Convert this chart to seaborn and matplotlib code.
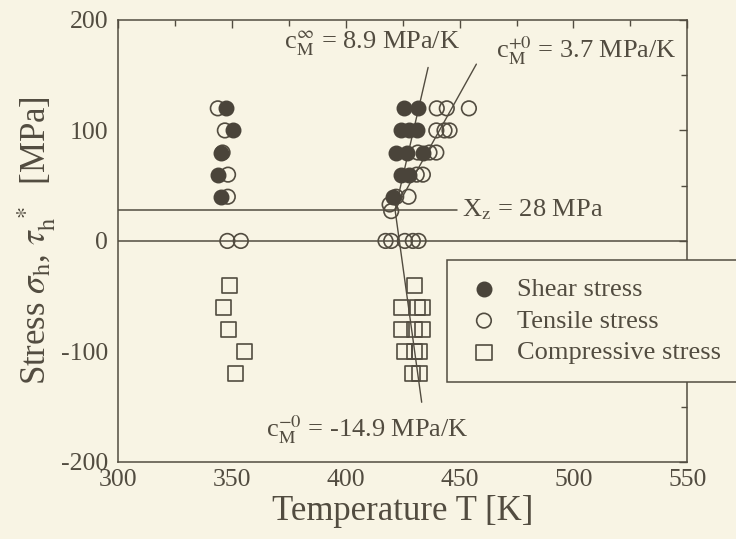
import matplotlib
matplotlib.use("Agg")
import matplotlib.pyplot as plt
import seaborn as sns
import pandas as pd
from matplotlib.ticker import MultipleLocator

# Measured transformation points: temperature [K] and applied stress [MPa]
shear_T = [347.6, 425.4, 431.7,
           350.5, 424.4, 428.0, 431.2,
           345.5, 422.2, 426.9, 433.9,
           344.0, 424.4, 428.0,
           345.5, 420.7]
shear_S = [120, 120, 120,
           100, 100, 100, 100,
           80, 80, 80, 80,
           60, 60, 60,
           40, 40]

tensile_T = [343.9, 440.0, 444.4, 454.1,
             347.0, 439.8, 443.4, 445.6,
             346.0, 431.7, 436.8, 439.8,
             348.4, 431.2, 433.9,
             348.3, 422.2, 427.6,
             419.3, 420.0,
             348.1, 354.0, 417.5, 420.0, 426.0, 429.5, 432.0]
tensile_S = [120, 120, 120, 120,
             100, 100, 100, 100,
             80, 80, 80, 80,
             60, 60, 60,
             40, 40, 40,
             33, 27,
             0, 0, 0, 0, 0, 0, 0]

compress_T = [349.0, 430.3,
              346.5, 424.4, 431.7, 433.9,
              348.7, 424.4, 430.3, 433.9,
              355.7, 425.9, 430.3, 432.5,
              351.8, 429.5, 432.5]
compress_S = [-40, -40,
              -60, -60, -60, -60,
              -80, -80, -80, -80,
              -100, -100, -100, -100,
              -120, -120, -120]

# Clausius-Clapeyron slopes [MPa/K] meeting at the critical stress X_z
Xz = 28.0
T_pivot = 421.7
slope_inf = 8.9
slope_plus = 3.7
slope_minus = -14.9
S_top_inf = 157.0
S_top_plus = 160.0
S_bot_minus = -146.0

labels = ["Shear stress", "Tensile stress", "Compressive stress"]

bg = "#f8f4e4"
ink = "#524c40"
fill = "#4a443a"

sns.set_theme(style="white")
plt.rcParams["font.family"] = ["Liberation Serif", "DejaVu Serif"]
plt.rcParams["mathtext.fontset"] = "stix"
plt.rcParams["axes.unicode_minus"] = False
plt.rcParams["text.color"] = ink
plt.rcParams["axes.labelcolor"] = ink
plt.rcParams["xtick.color"] = ink
plt.rcParams["ytick.color"] = ink

fig = plt.figure(figsize=(7.36, 5.39), dpi=100, facecolor=bg)
ax = fig.add_axes([0.160, 0.143, 0.774, 0.820])
ax.set_facecolor(bg)

# Reference lines
ax.axhline(0, color=ink, lw=1.1, zorder=1)
ax.plot([300, 449], [Xz, Xz], color=ink, lw=1.1, zorder=1)

def line_from_pivot(slope, s_end):
    t_end = T_pivot + (s_end - Xz) / slope
    ax.plot([T_pivot, t_end], [Xz, s_end], color=ink, lw=1.0, zorder=1)

line_from_pivot(slope_inf, S_top_inf)
line_from_pivot(slope_plus, S_top_plus)
line_from_pivot(slope_minus, S_bot_minus)

df_t = pd.DataFrame({"T": tensile_T, "S": tensile_S})
df_c = pd.DataFrame({"T": compress_T, "S": compress_S})
df_s = pd.DataFrame({"T": shear_T, "S": shear_S})

sns.scatterplot(data=df_t, x="T", y="S", marker="o", s=110, facecolor="none",
                edgecolor=ink, linewidth=1.2, ax=ax, zorder=3, label=labels[1])
sns.scatterplot(data=df_c, x="T", y="S", marker="s", s=120, facecolor="none",
                edgecolor=ink, linewidth=1.2, ax=ax, zorder=3, label=labels[2])
sns.scatterplot(data=df_s, x="T", y="S", marker="o", s=110, color=fill,
                edgecolor=fill, linewidth=1.0, ax=ax, zorder=4, label=labels[0])

ax.set_xlim(300, 550)
ax.set_ylim(-200, 200)
ax.xaxis.set_major_locator(MultipleLocator(50))
ax.xaxis.set_minor_locator(MultipleLocator(25))
ax.yaxis.set_major_locator(MultipleLocator(100))
ax.yaxis.set_minor_locator(MultipleLocator(50))
ax.tick_params(which="both", direction="in", top=True, right=True,
               labelsize=18.5)
ax.tick_params(axis="x", pad=5)
ax.tick_params(axis="y", pad=7)
ax.tick_params(which="major", length=6, width=1.0)
ax.tick_params(which="minor", length=4, width=1.0)
for sp in ax.spines.values():
    sp.set_color(ink)
    sp.set_linewidth(1.1)

ax.set_xlabel("Temperature T [K]", fontsize=25, labelpad=3)
ax.set_ylabel(r"Stress $\sigma_{\rm h}$, $\tau_{\rm h}^{\ *}$  [MPa]",
              fontsize=25, labelpad=2)

# Slope annotations
ax.text(411.4, 179, r"c$_{\rm M}^{\infty}$ = 8.9 MPa/K", fontsize=19,
        ha="center", va="center")
ax.text(466, 172, r"c$_{\rm M}^{+0}$ = 3.7 MPa/K", fontsize=19,
        ha="left", va="center")
ax.text(451, 28, r"X$_{\rm z}$ = 28 MPa", fontsize=19, ha="left", va="center")
ax.text(409.6, -171, r"c$_{\rm M}^{-0}$ = -14.9 MPa/K", fontsize=19,
        ha="center", va="center")

# Legend in the order shear, tensile, compressive
handles, labs = ax.get_legend_handles_labels()
order = [labs.index(l) for l in labels]
leg = ax.legend([handles[i] for i in order], [labs[i] for i in order],
                loc="upper left", bbox_to_anchor=(447 / 736, 1 - 260 / 539),
                bbox_transform=fig.transFigure, fontsize=19, frameon=True,
                fancybox=False, edgecolor=ink, facecolor=bg, framealpha=1,
                borderpad=0.65, labelspacing=0.32, handletextpad=0.5,
                handlelength=1.5, borderaxespad=0)
leg.get_frame().set_linewidth(1.1)
leg.set_zorder(5)

fig.savefig("out.png", dpi=100, facecolor=bg)
